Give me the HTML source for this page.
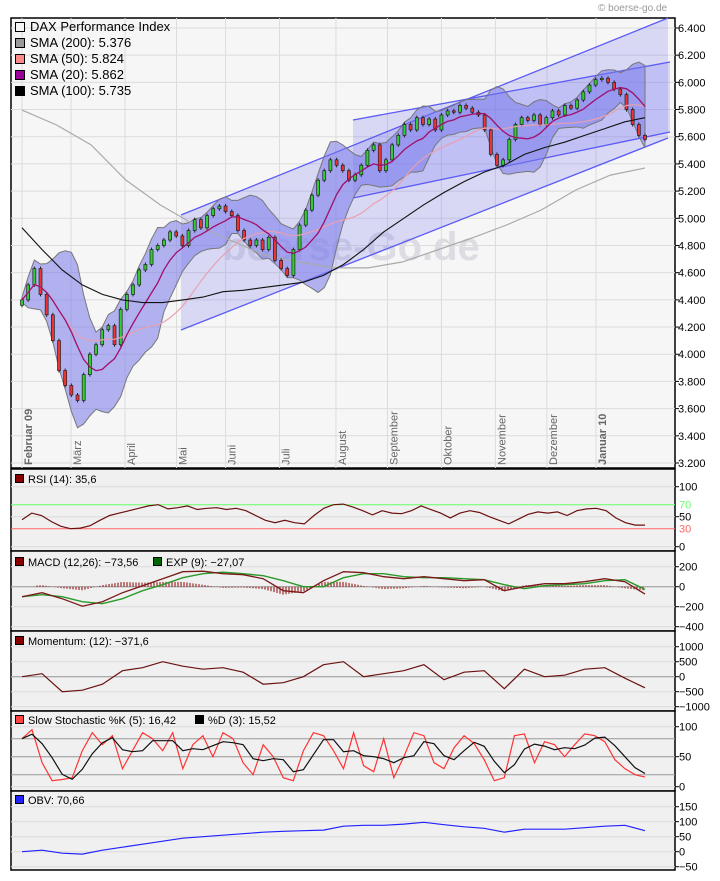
<!DOCTYPE html>
<html><head><meta charset="utf-8"><style>
body{margin:0;background:#fff;width:720px;height:881px;overflow:hidden;font-family:"Liberation Sans",sans-serif}
svg{display:block}
text{font-family:"Liberation Sans",sans-serif}
</style></head><body>
<svg id="chart" width="720" height="881" viewBox="0 0 720 881" xmlns="http://www.w3.org/2000/svg">
<text x="598" y="11" font-size="10" fill="#999">© boerse-go.de</text>
<g id="main"></g>
</svg>
<script>
const closes=[4400,4510,4630,4440,4290,4100,3880,3770,3700,3660,3850,4000,4070,4180,4210,4070,4330,4440,4510,4620,4660,4770,4800,4840,4900,4870,4800,4910,4990,4930,5020,5070,5090,5050,5020,4910,4840,4800,4840,4770,4860,4690,4630,4580,4770,4950,5060,5170,5280,5350,5430,5390,5350,5280,5320,5390,5500,5540,5350,5430,5540,5610,5690,5650,5740,5690,5730,5650,5760,5790,5780,5830,5810,5780,5760,5650,5470,5390,5430,5580,5690,5740,5720,5760,5690,5740,5790,5760,5830,5810,5870,5930,5980,6020,6030,6000,5950,5910,5800,5690,5610,5580];
const sma200=[5796,5686,5539,5282,5098,4951,4840,4730,4679,4635,4635,4679,4767,4855,4951,5061,5208,5318,5370];
const sma100=[4930,4770,4620,4510,4440,4400,4380,4380,4400,4420,4460,4470,4490,4510,4530,4580,4660,4770,4900,5000,5100,5190,5270,5340,5390,5470,5520,5560,5610,5660,5710,5740];
const priceTicks=[3200,3400,3600,3800,4000,4200,4400,4600,4800,5000,5200,5400,5600,5800,6000,6200,6400];
const months=["Februar 09","März","April","Mai","Juni","Juli","August","September","Oktober","November","Dezember","Januar 10"];
const monthDays=[0,20,42,63,83,105,128,149,171,193,214,234];
const rsi=[45,56,52,42,34,30,31,35,44,52,56,60,64,68,70,63,65,68,62,64,65,62,64,60,52,44,40,44,40,38,52,64,70,71,66,60,53,60,56,55,60,68,62,56,48,56,60,57,50,44,38,46,54,58,56,58,52,60,63,64,60,48,40,36,36];
const macd=[-100,-60,-120,-195,-150,-60,10,80,150,155,130,120,80,-40,-60,60,150,140,100,80,100,80,60,70,-40,0,30,30,50,80,50,-74];
const signal=[-100,-80,-100,-150,-170,-120,-40,20,90,130,145,130,110,60,0,0,90,130,130,100,90,90,80,70,20,-20,10,20,30,60,70,-27];
const momentum=[0,100,-500,-450,-250,200,300,500,350,250,300,150,-250,-200,0,400,500,0,100,200,400,-100,150,200,-400,250,0,50,250,300,-50,-370];
const stochK=[80,95,40,10,12,15,60,90,70,85,30,60,90,80,60,90,30,70,85,50,90,80,40,20,70,50,15,10,60,90,85,60,30,90,35,25,80,15,50,90,85,40,30,65,85,72,45,10,15,85,88,40,75,70,50,70,88,85,75,45,30,20,16];
const obv=[0,5,-5,-8,5,15,25,35,45,50,55,60,65,68,70,72,85,88,88,92,98,90,83,78,65,75,75,75,80,85,88,70];
const rsiTicks=[0,50,100];const macdTicks=[200,0,-200,-400];const momTicks=[1000,500,0,-500,-1000];const stoTicks=[0,50,100];const obvTicks=[150,100,50,0,-50];

const NS="http://www.w3.org/2000/svg";
const root=document.getElementById('main');
function mk(tag,attrs,parent){const e=document.createElementNS(NS,tag);for(const k in attrs)e.setAttribute(k,attrs[k]);(parent||root).appendChild(e);return e;}
const X0=22,X1=645,PL=11,PR=675;
const DAYS=254;
function xDay(d){return X0+d*(X1-X0)/DAYS;}
function xIdx(i,n){return X0+i*(X1-X0)/(n-1);}
function yP(p){return 463-(p-3200)/200*27.19;}
function pts(arr,fy){return arr.map((v,i)=>xIdx(i,arr.length).toFixed(1)+','+fy(v).toFixed(1)).join(' ');}

let bg=mk('rect',{x:PL,y:18,width:PR-PL,height:450,fill:'#f6f6f6',stroke:'#000','stroke-width':1.5});

priceTicks.forEach(p=>{const y=yP(p);mk('line',{x1:PL,x2:PR,y1:y,y2:y,stroke:'#dcdcdc'});
 mk('line',{x1:PR,x2:PR+4,y1:y,y2:y,stroke:'#000'});
 const t=mk('text',{x:678,y:y+4,'font-size':11,fill:'#000'});t.textContent=(p/1000).toFixed(3);
 });
months.forEach((m,i)=>{const x=xDay(monthDays[i]);
 mk('line',{x1:x,x2:x,y1:18,y2:468,stroke:'#dcdcdc'});
 const t=mk('text',{x:0,y:0,'font-size':11,fill:'#666','font-weight':(i==0||i==11)?'bold':'normal',transform:`translate(${x+10},465) rotate(-90)`});
 t.textContent=m;});
let wm=mk('text',{x:222,y:260,'font-size':40,fill:'#dcdce2','font-weight':'bold'});wm.textContent='boerse-Go.de';

let ch1=mk('polygon',{points:'181,330 668,138 668,18 181,215',fill:'rgba(110,110,240,0.22)'});

let ch2=mk('polygon',{points:'353,198 670,132 670,62 353,120',fill:'rgba(110,110,240,0.22)'});

[[181,330,668,138],[181,215,668,18],[353,198,670,132],[353,120,670,62]].forEach(l=>{
 const e=mk('line',{x1:l[0],y1:l[1],x2:l[2],y2:l[3],stroke:'#5a5af5','stroke-width':1.3});
 });
function sma(a,w){return a.map((v,i)=>{const s=a.slice(Math.max(0,i-w+1),i+1);return s.reduce((x,y)=>x+y,0)/s.length;});}
const s20=sma(closes,8),s50=sma(closes,20);
const sd=closes.map((v,i)=>{const s=closes.slice(Math.max(0,i-7),i+1);const m=s20[i];return Math.sqrt(s.reduce((x,y)=>x+(y-m)*(y-m),0)/s.length);});
const up=s20.map((m,i)=>m+1.7*sd[i]+20),lo=s20.map((m,i)=>m-1.7*sd[i]-20);
const bandPts=up.map((v,i)=>xIdx(i,closes.length)+','+yP(v)).concat(lo.map((v,i)=>xIdx(i,closes.length)+','+yP(v)).reverse()).join(' ');
let bb=mk('polygon',{points:bandPts,fill:'rgba(120,120,235,0.55)',stroke:'#777','stroke-width':1});

let l200=mk('polyline',{points:pts(sma200,yP),fill:'none',stroke:'#aaa','stroke-width':1.2});

closes.forEach((c,i)=>{const o=i?closes[i-1]:c-40;const x=xIdx(i,closes.length);
 const hi=Math.max(o,c)+15,lw=Math.min(o,c)-15;
 const g=mk('g',{});
 mk('line',{x1:x,x2:x,y1:yP(hi),y2:yP(lw),stroke:'#222'},g);
 mk('rect',{x:x-1.5,y:yP(Math.max(o,c)),width:3,height:Math.max(1,Math.abs(yP(o)-yP(c))),fill:c>=o?'#3c3':'#e33',stroke:'#222','stroke-width':0.7},g);});
let l50=mk('polyline',{points:pts(s50,yP),fill:'none',stroke:'#e8a0b0','stroke-width':1.2});

let l20=mk('polyline',{points:pts(s20,yP),fill:'none',stroke:'#a0106a','stroke-width':1.3});

let l100=mk('polyline',{points:pts(sma100,yP),fill:'none',stroke:'#111','stroke-width':1.1});

[['DAX Performance Index','#f6f6f6'],['SMA (200): 5.376','#999'],['SMA (50): 5.824','#f88'],['SMA (20): 5.862','#909'],['SMA (100): 5.735','#000']].forEach((l,i)=>{
 const g=mk('g',{});
 mk('rect',{x:15.5,y:22.5+i*16,width:9,height:9,fill:l[1],stroke:'#000'},g);
 const t=mk('text',{x:30,y:31+i*16,'font-size':13,fill:'#000'},g);t.textContent=l[0];});

function panel(name,top,bot,yfn,ticks){
 const r=mk('rect',{x:PL,y:top,width:PR-PL,height:bot-top,fill:'#f0f0f0',stroke:'#000','stroke-width':1.5});
 
 ticks.forEach(v=>{const y=yfn(v);mk('line',{x1:PL,x2:PR,y1:y,y2:y,stroke:'#dadada'});
  mk('line',{x1:PR,x2:PR+4,y1:y,y2:y,stroke:'#000'});
  const t=mk('text',{x:679,y:y+4,'font-size':11,fill:'#000'});t.textContent=String(v).replace('-','−');
  });
}
function legend(items,y){let x=15;items.forEach(it=>{const g=mk('g',{});
 mk('rect',{x:x+.5,y:y-8.5,width:8,height:8,fill:it[1],stroke:'#000'},g);
 const t=mk('text',{x:x+13,y:y,'font-size':11,fill:'#000'},g);t.textContent=it[0];x+=it[2];});}
function line(arr,fy,col,name,w){const e=mk('polyline',{points:pts(arr,fy),fill:'none',stroke:col,'stroke-width':w||1.2});}

const yR=v=>546.7-v*0.6;
panel('rsi-panel',469,551,yR,rsiTicks);
[[70,'#6f6','70'],[30,'#f66','30']].forEach(a=>{mk('line',{x1:PL,x2:PR,y1:yR(a[0]),y2:yR(a[0]),stroke:a[1]});
 const t=mk('text',{x:679,y:yR(a[0])+4,'font-size':11,fill:a[1]});t.textContent=a[2];});
legend([['RSI (14): 35,6','#800',0]],483);
line(rsi,yR,'#6b1010','rsi-line');
const yM=v=>586.7-v*0.1;
panel('macd-panel',551,631,yM,macdTicks);
mk('line',{x1:PL,x2:PR,y1:yM(0),y2:yM(0),stroke:'#999'});
for(let x=X0+15;x<X1;x+=3){const f=(x-X0)/(X1-X0)*(macd.length-1);const i=Math.floor(f),t=f-i;
 const m=macd[i]+(macd[Math.min(i+1,macd.length-1)]-macd[i])*t,s=signal[i]+(signal[Math.min(i+1,signal.length-1)]-signal[i])*t;
 const h=(m-s)*0.8;const b=mk('line',{x1:x,x2:x,y1:yM(0),y2:yM(h),stroke:'#8b0000','stroke-width':1});
 }
line(signal,yM,'#2a9a2a','signal-line',1.4);
line(macd,yM,'#7a1a1a','macd-line',1.3);
legend([['MACD (12,26): −73,56','#800',138],['EXP (9): −27,07','#060',0]],566);
const yMo=v=>676.7-v*0.03;
panel('momentum-panel',631,711,yMo,momTicks);
mk('line',{x1:PL,x2:PR,y1:yMo(0),y2:yMo(0),stroke:'#999'});
line(momentum,yMo,'#6b1010','momentum-line');
legend([['Momentum: (12): −371,6','#800',0]],645);
const yS=v=>786.7-v*0.6;
panel('stochastic-panel',711,791,yS,stoTicks);
[20,50,80].forEach(v=>mk('line',{x1:PL,x2:PR,y1:yS(v),y2:yS(v),stroke:'#999'}));
const stochD=stochK.map((v,i)=>{const s=stochK.slice(Math.max(0,i-2),i+1);return s.reduce((a,b)=>a+b,0)/s.length;});
line(stochK,yS,'#f33','stoch-k-line');
line(stochD,yS,'#111','stoch-d-line');
legend([['Slow Stochastic %K (5): 16,42','#f44',180],['%D (3): 15,52','#000',0]],724);
const yO=v=>851.7-v*0.3;
panel('obv-panel',791,870,yO,obvTicks);
line(obv,yO,'#22f','obv-line');
legend([['OBV: 70,66','#22f',0]],804);
</script>
</body></html>
